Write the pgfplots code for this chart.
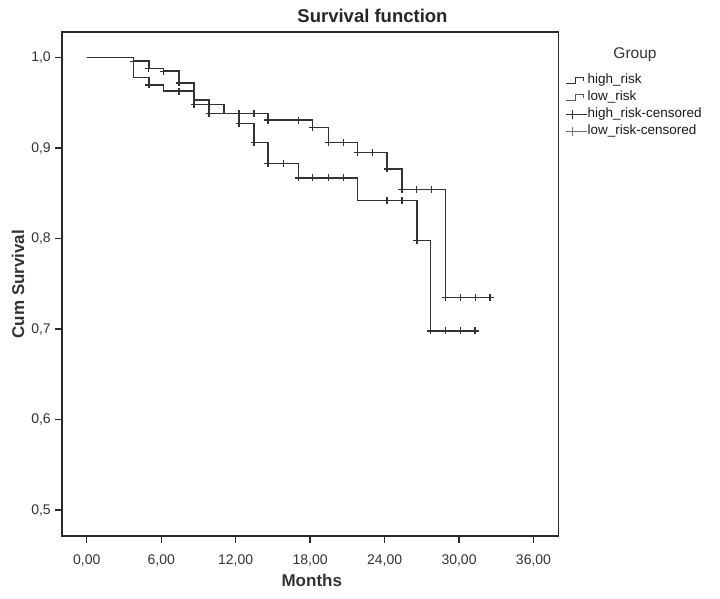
\documentclass[border=0pt]{standalone}
\usepackage{fontspec}
\setmainfont{Liberation Sans}
\usepackage{pgfplots}
\pgfplotsset{compat=1.18}
\definecolor{curve}{HTML}{333333}
\definecolor{frame}{HTML}{2A2A2A}
\begin{document}
\begin{tikzpicture}[x=1pt,y=1pt]
\useasboundingbox (0,0) rectangle (720,598);
\begin{axis}[
  at={(62.3pt,62pt)}, anchor=south west,
  scale only axis, width=496pt, height=503.7pt,
  xmin=-1.97, xmax=38.0, ymin=0.4713, ymax=1.028,
  xtick={0,6,12,18,24,30,36},
  ytick={0.5,0.6,0.7,0.8,0.9,1.0},
  tick align=outside, xtick pos=bottom, ytick pos=left,
  major tick length=7pt,
  tick style={line width=1.3pt, frame},
  axis line style={line width=1.6pt, frame},
  /pgf/number format/assume math mode=true,
  xticklabel style={/pgf/number format/.cd, fixed, fixed zerofill, precision=2, use comma, /tikz/.cd, yshift=-8pt},
  yticklabel style={/pgf/number format/.cd, fixed, fixed zerofill, precision=1, use comma, /tikz/.cd, xshift=-1pt},
  ticklabel style={font=\fontsize{14}{16}\selectfont, text=black!80},
  scaled ticks=false,
  title={\textbf{Survival function}},
  title style={at={(rel axis cs:0.6254,1.0205)}, anchor=center, font=\fontsize{18.5}{20}\selectfont, text=black!85},
  xlabel={\textbf{Months}},
  xlabel style={at={(rel axis cs:0.503,-0.0874)}, anchor=center, font=\fontsize{17}{19}\selectfont, text=black!80},
  ylabel={\textbf{Cum Survival}},
  ylabel style={at={(rel axis cs:-0.0893,0.5)}, anchor=center, font=\fontsize{17}{19}\selectfont, text=black!80},
  legend style={at={(rel axis cs:1.0135,0.918)}, anchor=north west, draw=none, fill=none,
    font=\fontsize{13.5}{15}\selectfont, text=black!90,
    nodes={inner sep=0.5pt, text height=9.5pt, text depth=3pt, anchor=west},
    row sep=3.5pt, inner sep=0pt},
  legend cell align=left,
  clip=false,
]
% high_risk (lower curve)
\addplot[const plot, curve, line width=1.5pt, forget plot] coordinates {
 (0,1.000) (3.76,0.978) (5.0,0.970) (6.2,0.963) (8.65,0.948) (9.86,0.938)
 (12.27,0.927) (13.48,0.906) (14.6,0.883) (17.05,0.867) (21.8,0.842)
 (26.6,0.798) (27.7,0.698) (31.3,0.698)};
% low_risk (upper curve)
\addplot[const plot, curve, line width=1.5pt, forget plot] coordinates {
 (0,1.000) (3.76,0.996) (5.0,0.988) (6.2,0.985) (7.44,0.972) (8.65,0.953)
 (9.86,0.948) (11.06,0.938) (14.6,0.931) (18.2,0.923) (19.47,0.906)
 (21.8,0.895) (24.2,0.877) (25.4,0.854) (28.9,0.735) (32.5,0.735)};
% high_risk censored
\addplot[only marks, mark=+, mark size=3.5pt, curve, mark options={line width=1.5pt}, forget plot] coordinates {
 (5.0,0.970) (7.44,0.963) (8.65,0.948) (9.86,0.938) (12.27,0.927) (13.48,0.906)
 (14.6,0.883) (15.85,0.883) (17.05,0.867) (18.2,0.867) (19.47,0.867) (20.7,0.867)
 (24.2,0.842) (25.4,0.842) (26.6,0.798) (27.7,0.698) (28.9,0.698) (30.1,0.698) (31.3,0.698)};
% low_risk censored
\addplot[only marks, mark=+, mark size=3.5pt, curve, mark options={line width=1.2pt}, forget plot] coordinates {
 (3.76,0.996) (5.0,0.988) (6.2,0.985) (7.44,0.972) (9.86,0.948) (12.27,0.938) (13.48,0.938)
 (14.6,0.931) (17.05,0.931) (18.2,0.923) (19.47,0.906) (20.7,0.906) (21.8,0.895) (23.0,0.895)
 (24.2,0.877) (25.4,0.854) (26.6,0.854) (27.8,0.854) (28.9,0.735) (30.1,0.735) (31.3,0.735) (32.5,0.735)};
\addlegendimage{legend image code/.code={\draw[curve, line width=1pt] (0pt,-2.5pt) -- (10pt,-2.5pt) -- (10pt,3pt) -- (18pt,3pt) -- (18pt,0pt);}}
\addlegendentry{high\_risk}
\addlegendimage{legend image code/.code={\draw[curve!80, line width=1pt] (0pt,-2.5pt) -- (10pt,-2.5pt) -- (10pt,3pt) -- (18pt,3pt) -- (18pt,0pt);}}
\addlegendentry{low\_risk}
\addlegendimage{legend image code/.code={\draw[curve, line width=1pt] (0pt,0pt) -- (21pt,0pt); \draw[curve, line width=1pt] (7pt,-4.5pt) -- (7pt,4.5pt);}}
\addlegendentry{high\_risk-censored}
\addlegendimage{legend image code/.code={\draw[curve!70, line width=0.8pt] (0pt,0pt) -- (21pt,0pt); \draw[curve!70, line width=0.8pt] (7pt,-4.5pt) -- (7pt,4.5pt);}}
\addlegendentry{low\_risk-censored}
\node[font=\fontsize{15.5}{17}\selectfont, text=black!80] at (rel axis cs:1.1546,0.9562) {Group};
\end{axis}
\end{tikzpicture}
\end{document}
